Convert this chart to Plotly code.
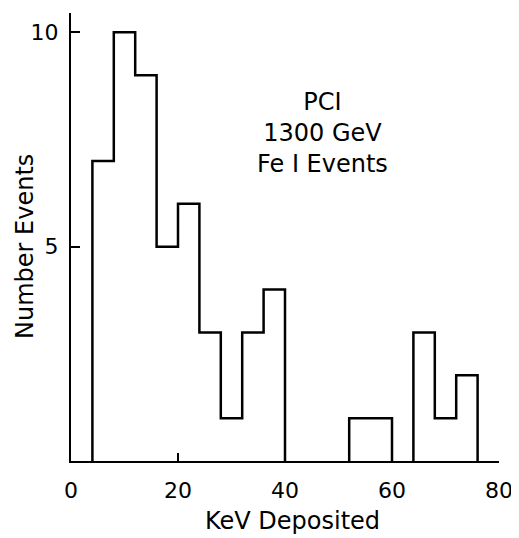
import plotly.graph_objects as go

# Histogram data: bin edges (KeV) and counts
bin_edges = [4, 8, 12, 16, 20, 24, 28, 32, 36, 40, 44, 48, 52, 56, 60, 64, 68, 72, 76]
counts = [7, 10, 9, 5, 6, 3, 1, 3, 4, 0, 0, 0, 1, 1, 0, 3, 1, 2]

x_ticks = [0, 20, 40, 60, 80]
y_ticks = [5, 10]
label_lines = ["PCI", "1300 GeV", "Fe I Events"]

# Build step outline from data, one piece per run of non-empty bins
xs, ys = [], []
i = 0
n = len(counts)
while i < n:
    if counts[i] == 0:
        i += 1
        continue
    j = i
    while j < n and counts[j] > 0:
        j += 1
    xs += [bin_edges[i]] + bin_edges[i:j] + [bin_edges[j]]
    ys += [0] + counts[i:j] + [0]
    xs.append(None)
    ys.append(None)
    i = j

FONT = "DejaVu Sans"

fig = go.Figure()
fig.add_trace(go.Scatter(
    x=xs, y=ys, mode="lines", line=dict(shape="hv", color="black", width=2.5),
    connectgaps=False, hoverinfo="skip", showlegend=False,
))

# page body has an 8px margin, so the figure is 8px smaller and shifted
fig.update_layout(
    width=511, height=530,
    margin=dict(l=63, r=20, t=5, b=77),
    paper_bgcolor="white", plot_bgcolor="white",
    font=dict(family=FONT, size=22, color="black"),
    showlegend=False,
)
fig.update_xaxes(
    range=[0, 80], tickvals=x_ticks, ticktext=[str(v) for v in x_ticks],
    ticks="inside", ticklen=8, tickwidth=2, tickcolor="black",
    showline=True, linecolor="black", linewidth=2, showgrid=False, zeroline=False,
    ticklabelstandoff=9, tickfont=dict(size=22),
)
fig.update_yaxes(
    range=[0, 10.45], tickvals=y_ticks, ticktext=[str(v) for v in y_ticks],
    ticks="inside", ticklen=9, tickwidth=2, tickcolor="black",
    showline=True, linecolor="black", linewidth=2, showgrid=False, zeroline=False,
    ticklabelstandoff=6, tickfont=dict(size=22),
)

# Axis titles
fig.add_annotation(text="KeV Deposited", xref="paper", yref="paper",
                   x=0.5, y=0, xshift=7, yshift=-60, showarrow=False,
                   font=dict(size=24), xanchor="center", yanchor="middle")
fig.add_annotation(text="Number Events", xref="paper", yref="paper",
                   x=0, y=0.5, xshift=-46, yshift=-10, textangle=-90, showarrow=False,
                   font=dict(size=24), xanchor="center", yanchor="middle")

# Label block
fig.add_annotation(text="<br>".join(label_lines), xref="paper", yref="paper",
                   x=(322 - 71) / 428, y=(461 - 133) / 448, showarrow=False,
                   font=dict(size=24), align="center", xanchor="center", yanchor="middle")

fig.write_html("out.html")
